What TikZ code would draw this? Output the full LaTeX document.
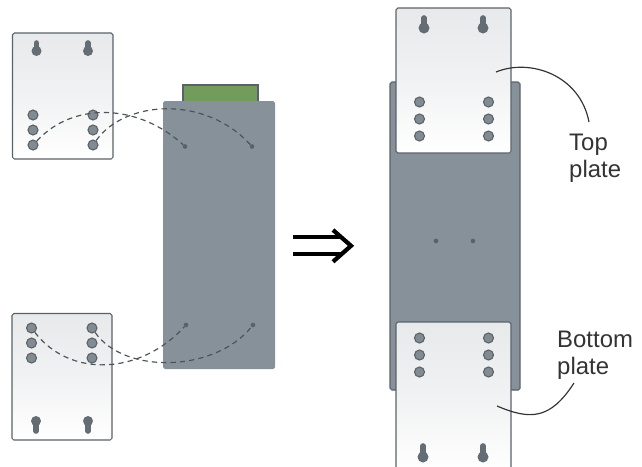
\documentclass[tikz,border=0pt]{standalone}
\usepackage{fontspec}
\setmainfont{Liberation Sans}
\definecolor{devcol}{HTML}{87919A}
\definecolor{devedge}{HTML}{5A6269}
\definecolor{greencol}{HTML}{729B5C}
\definecolor{platetop}{HTML}{E8E9EB}
\definecolor{holecol}{HTML}{838B92}
\definecolor{slotcol}{HTML}{656D74}
\definecolor{labcol}{HTML}{333333}
\tikzset{
  plate/.style={draw=devedge,line width=0.9pt,rounded corners=1.5pt,top color=platetop,bottom color=white,middle color=platetop!60!white},
  hole/.style={circle,draw=devedge,line width=0.9pt,fill=holecol,minimum size=0.3cm,inner sep=0pt},
  dot/.style={circle,fill=devedge,minimum size=0.14cm,inner sep=0pt},
  slot/.style={slotcol,line width=4.8pt,line cap=round},
  dashline/.style={devedge!85!black,line width=1pt,dash pattern=on 4.5pt off 3.5pt},
  leader/.style={labcol,line width=1pt},
  plabel/.style={labcol,font=\fontsize{20.4}{23}\selectfont,align=left,anchor=north west,inner sep=0pt}
}
\begin{document}
\begin{tikzpicture}[x=0.03cm,y=-0.03cm]
\useasboundingbox (0,0) rectangle (642,466);
% left side
\draw [devedge,fill=greencol,line width=0.9pt] (183,85) rectangle (258,102);
\fill [devcol,rounded corners=1.5pt] (163,101) rectangle (275,369);
\draw [plate] (12.5,33) rectangle (113,159);
\draw [plate] (12,313.5) rectangle (112,440);
\draw [slot] (36.5,43) -- (36.5,50);
\fill [slotcol] (36.5,51) circle [radius=5];
\draw [slot] (88,43) -- (88,50);
\fill [slotcol] (88,51) circle [radius=5];
\draw [slot] (36,422) -- (36,431);
\fill [slotcol] (36,421) circle [radius=5];
\draw [slot] (88,422) -- (88,431);
\fill [slotcol] (88,421) circle [radius=5];
\node [hole] (ta1) at (33,115) {};
\node [hole] (ta2) at (33,130) {};
\node [hole] (ta3) at (33,145) {};
\node [hole] (tb1) at (93,115) {};
\node [hole] (tb2) at (93,130) {};
\node [hole] (tb3) at (93,145) {};
\node [hole] (ba1) at (31.5,328) {};
\node [hole] (ba2) at (31.5,343) {};
\node [hole] (ba3) at (31.5,358) {};
\node [hole] (bb1) at (92,328) {};
\node [hole] (bb2) at (92,343) {};
\node [hole] (bb3) at (92,358) {};
\node [dot] (da) at (185,146.5) {};
\node [dot] (db) at (252,146.5) {};
\node [dot] (dc) at (186,325) {};
\node [dot] (dd) at (253,325) {};
\draw [dashline] (ta3) .. controls (75,100) and (140,105) .. (da);
\draw [dashline] (tb3) .. controls (125,100) and (205,95) .. (db);
\draw [dashline] (ba1) .. controls (70,378) and (140,375) .. (dc);
\draw [dashline] (bb1) .. controls (125,375) and (215,372) .. (dd);
% arrow
\draw [black,line width=3.3pt] (293,237.3) -- (341,237.3);
\draw [black,line width=3.3pt] (293,254.3) -- (341,254.3);
\draw [black,line width=3.6pt,miter limit=10] (333,230) -- (351,245.8) -- (333,261.7);
% right side
\draw [devedge,fill=devcol,line width=0.9pt,rounded corners=1.5pt] (390,82) rectangle (520,390);
\node [dot] (dl) at (436,241) {};
\node [dot] (dr) at (473,241) {};
\draw [plate] (396,8) rectangle (511,153);
\draw [plate] (396,322) rectangle (511,472);
\draw [slot] (424,18) -- (424,27);
\fill [slotcol] (424,28) circle [radius=5.5];
\draw [slot] (483,18) -- (483,27);
\fill [slotcol] (483,28) circle [radius=5.5];
\draw [slot] (423,446) -- (423,456);
\fill [slotcol] (423,457) circle [radius=5.5];
\draw [slot] (483,446) -- (483,456);
\fill [slotcol] (483,457) circle [radius=5.5];
\node [hole] (ra1) at (419.5,102) {};
\node [hole] (ra2) at (419.5,119) {};
\node [hole] (ra3) at (419.5,136) {};
\node [hole] (rb1) at (488.5,102) {};
\node [hole] (rb2) at (488.5,119) {};
\node [hole] (rb3) at (488.5,136) {};
\node [hole] (rc1) at (419.5,338) {};
\node [hole] (rc2) at (419.5,355) {};
\node [hole] (rc3) at (419.5,372) {};
\node [hole] (rd1) at (488.5,338) {};
\node [hole] (rd2) at (488.5,355) {};
\node [hole] (rd3) at (488.5,372) {};
% labels
\node [plabel] (toplab) at (569,133.5) {Top\\plate};
\node [plabel] (botlab) at (557,330.5) {Bottom\\plate};
\coordinate (tpt) at (496,72);
\coordinate (tend) at (589,122);
\coordinate (bpt) at (497,406);
\coordinate (bend) at (574,383);
\draw [leader] (tpt) .. controls (530,58) and (580,75) .. (tend);
\draw [leader] (bpt) .. controls (530,420) and (550,420) .. (bend);
\end{tikzpicture}
\end{document}
